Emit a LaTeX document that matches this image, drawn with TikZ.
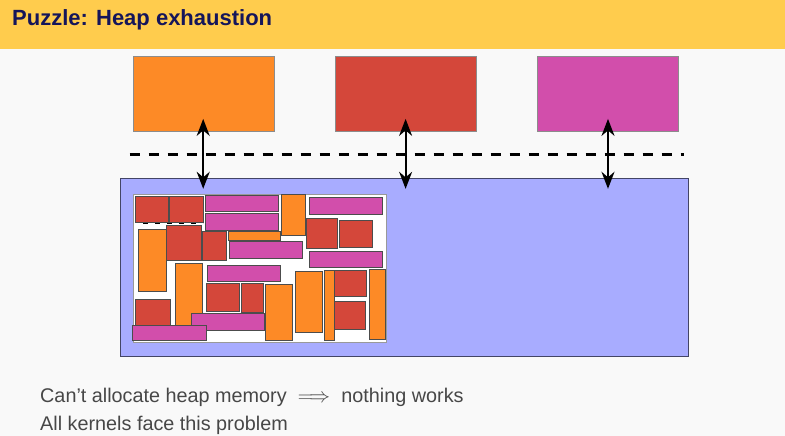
\documentclass[tikz,border=0pt]{standalone}
\usepackage{amsmath}
\usepackage[no-math]{fontspec}
\setmainfont{Liberation Sans}
\usetikzlibrary{arrows.meta,positioning}

\definecolor{bar}{HTML}{FFCC4D}
\definecolor{navy}{HTML}{15155A}
\definecolor{txt}{HTML}{474747}
\definecolor{bgc}{HTML}{F9F9F9}
\definecolor{orng}{HTML}{FD8A26}
\definecolor{redc}{HTML}{D4473A}
\definecolor{mgnt}{HTML}{D24EAB}
\definecolor{heapc}{HTML}{A8ACFF}

\tikzset{
  proc/.style={draw=black!45,minimum width=141pt,minimum height=74pt,inner sep=0pt},
  cell/.style={draw=black!70,line width=0.8pt},
  dbl/.style={{Stealth[length=17pt,width=13pt]}-{Stealth[length=17pt,width=13pt]},line width=2pt}
}

\begin{document}
\begin{tikzpicture}[x=1pt,y=-1pt]
	\fill[bgc] (0,0) rectangle (785,436);
	\useasboundingbox (0,0) rectangle (785,436);
	% title bar
	\fill[bar] (0,0) rectangle (785,49);
	\node[anchor=base west,inner sep=0pt,text=navy,font=\bfseries\fontsize{22}{26}\selectfont](title) at (12,26){Puzzle: Heap exhaustion};
	% processes
	\node[proc,fill=orng](orng) at (203.2,93.7){};
	\node[proc,fill=redc,right=61pt of orng](redb){};
	\node[proc,fill=mgnt,right=61pt of redb](mgnt){};
	% heap
	\node[draw=black!60!heapc,line width=1pt,fill=heapc,minimum width=567.6pt,minimum height=178.4pt,inner sep=0pt](heap) at (404.5,267.5){};
	\node[draw=black!40,fill=white,minimum width=253pt,minimum height=147.7pt,inner sep=0pt](used) at (259.2,267.85){};
	\draw[line width=1.5pt,dash pattern=on 5pt off 7pt] (143,223.5) -- (203,223.5);
	\foreach \xa/\ya/\xb/\yb/\c in {
		135/196.7/168.3/222.7/redc, 169.3/196.7/203.3/222.7/redc,
		205/195/278.3/211.7/mgnt, 205/213.3/278.3/230/mgnt,
		281.7/194.3/305.7/235.7/orng, 309/197.3/382.7/214.3/mgnt,
		138.3/229.3/166/291/orng, 166.7/225.7/201.7/260/redc,
		202.7/231.7/226/260/redc, 228.3/231.7/280/240/orng,
		229/241.7/302.7/258.3/mgnt, 306.7/218.3/337.3/248.3/redc,
		339/220.7/372.7/247.3/redc, 309/251/382.3/267.7/mgnt,
		175.7/263.3/202.3/325/orng, 207.3/265/280.7/281.7/mgnt,
		206/283.3/239.3/311/redc, 241/283.3/263.3/312.3/redc,
		265.7/284/292.3/340/orng, 295/271.7/322.3/332.7/orng,
		324.3/270/334/340/orng, 334.3/270/366.7/296.7/redc,
		334.3/301.7/365/329/redc, 369.3/269/385/339/orng,
		135.7/299.3/170/326/redc, 191/313.3/264/330.7/mgnt,
		132.7/325/206.7/340.7/mgnt}
		\draw[cell,fill=\c] (\xa,\ya) rectangle (\xb,\yb);
	% kernel boundary
	\draw[line width=3.3pt,dash pattern=on 10pt off 9pt] (129.5,154.3) -- (683.5,154.3);
	\foreach \b in {orng,redb,mgnt}
		\draw[dbl] ([yshift=12pt]\b.south) -- ([yshift=-11pt]\b.south |- heap.north);
	% text
	\node[anchor=base west,inner sep=0pt,text=txt,font=\fontsize{19.8}{24}\selectfont](l1) at (40,402){Can't allocate heap memory $\implies$ nothing works};
	\node[anchor=base west,inner sep=0pt,text=txt,font=\fontsize{19.8}{24}\selectfont](l2) at (40,430){All kernels face this problem};
\end{tikzpicture}
\end{document}
